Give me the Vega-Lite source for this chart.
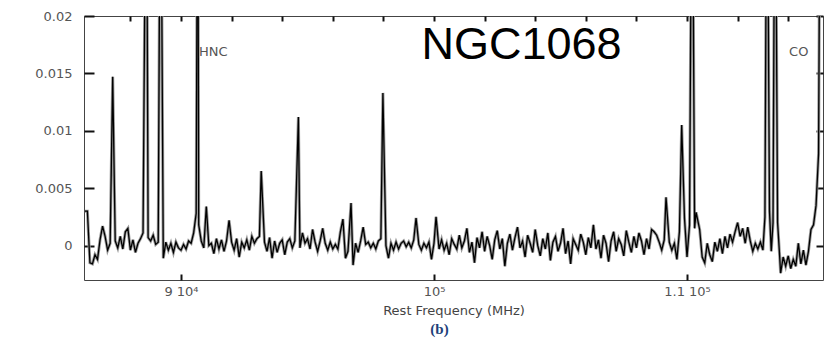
{
  "$schema": "https://vega.github.io/schema/vega-lite/v6.json",
  "autosize": "none",
  "width": 739,
  "height": 264,
  "padding": {"left": 84, "top": 16, "right": 1, "bottom": 58},
  "background": "white",
  "config": {
    "view": {"stroke": "#444", "strokeWidth": 1},
    "axis": {"domain": false, "grid": false, "labelFont": "DejaVu Sans", "labelFontSize": 13, "labelColor": "#555", "titleFont": "DejaVu Sans", "titleFontSize": 13, "titleFontWeight": "normal", "titleColor": "#444"}
  },
  "title": {"text": "(b)", "orient": "bottom", "font": "Liberation Serif", "fontSize": 15, "fontWeight": "bold", "color": "#1f3f7a", "dx": -14, "offset": 5},
  "layer": [
    {
      "data": {"name": "spectrum", "values": [
        {"f":86200,"v":0.003},{"f":86300,"v":0.003},{"f":86400,"v":-0.0015},{"f":86500,"v":-0.0016},{"f":86600,"v":-0.0008},
        {"f":86700,"v":-0.0012},{"f":86800,"v":0.0005},{"f":86900,"v":0.0017},{"f":87000,"v":0.0008},{"f":87100,"v":-0.0004},
        {"f":87200,"v":0.0002},{"f":87300,"v":0.0147},{"f":87400,"v":0.0004},{"f":87500,"v":-0.0002},{"f":87600,"v":0.0008},
        {"f":87700,"v":-0.0003},{"f":87800,"v":0.0012},{"f":87900,"v":0.0015},{"f":88000,"v":-0.0004},{"f":88100,"v":0.0005},
        {"f":88200,"v":-0.0006},{"f":88300,"v":0.0002},{"f":88400,"v":0.0006},{"f":88500,"v":0.0011},{"f":88630,"v":0.04},
        {"f":88700,"v":0.0007},{"f":88800,"v":0.0004},{"f":88900,"v":0.0009},{"f":89000,"v":0.0001},{"f":89100,"v":0.0003},
        {"f":89190,"v":0.04},{"f":89300,"v":-0.0011},{"f":89400,"v":0.0003},{"f":89500,"v":-0.0004},{"f":89600,"v":0.0002},
        {"f":89700,"v":-0.0006},{"f":89800,"v":0.0003},{"f":89900,"v":-0.0002},{"f":90000,"v":-0.0004},{"f":90100,"v":0.0001},
        {"f":90200,"v":-0.0003},{"f":90300,"v":0.0004},{"f":90400,"v":0.0002},{"f":90500,"v":0.0011},{"f":90600,"v":0.0028},
        {"f":90660,"v":0.04},{"f":90700,"v":0.0018},{"f":90800,"v":0.0004},{"f":90900,"v":-0.0002},{"f":91000,"v":0.0034},
        {"f":91100,"v":0.0},{"f":91200,"v":0.0002},{"f":91300,"v":-0.0007},{"f":91400,"v":0.0006},{"f":91500,"v":-0.0003},
        {"f":91600,"v":0.0005},{"f":91700,"v":-0.0005},{"f":91800,"v":0.0004},{"f":91900,"v":0.0022},{"f":92000,"v":0.0003},
        {"f":92100,"v":-0.0004},{"f":92200,"v":0.0006},{"f":92300,"v":-0.001},{"f":92400,"v":0.0003},{"f":92500,"v":-0.0002},
        {"f":92600,"v":0.0005},{"f":92700,"v":-0.0004},{"f":92800,"v":0.0008},{"f":92900,"v":0.0002},{"f":93000,"v":0.0006},
        {"f":93100,"v":0.0008},{"f":93170,"v":0.0065},{"f":93300,"v":0.0003},{"f":93400,"v":-0.0005},{"f":93500,"v":0.0007},
        {"f":93600,"v":-0.0011},{"f":93700,"v":0.0004},{"f":93800,"v":-0.0006},{"f":93900,"v":0.0002},{"f":94000,"v":0.0005},
        {"f":94100,"v":-0.0008},{"f":94200,"v":0.0003},{"f":94300,"v":0.0006},{"f":94400,"v":-0.0002},{"f":94500,"v":0.0004},
        {"f":94640,"v":0.0112},{"f":94700,"v":-0.0002},{"f":94800,"v":0.0011},{"f":94900,"v":0.0002},{"f":95000,"v":0.0006},
        {"f":95100,"v":-0.0003},{"f":95200,"v":0.0014},{"f":95300,"v":0.0003},{"f":95400,"v":-0.0005},{"f":95500,"v":0.0004},
        {"f":95600,"v":0.0015},{"f":95700,"v":0.0002},{"f":95800,"v":-0.0004},{"f":95900,"v":0.0003},{"f":96000,"v":-0.0003},
        {"f":96100,"v":0.0001},{"f":96200,"v":-0.0003},{"f":96300,"v":0.0012},{"f":96400,"v":0.0023},{"f":96500,"v":-0.0011},
        {"f":96600,"v":-0.0005},{"f":96720,"v":0.0037},{"f":96800,"v":-0.0017},{"f":96900,"v":0.0002},{"f":97000,"v":-0.0006},
        {"f":97100,"v":0.0004},{"f":97200,"v":0.0016},{"f":97300,"v":0.0001},{"f":97400,"v":0.0003},{"f":97500,"v":-0.0002},
        {"f":97600,"v":0.0002},{"f":97700,"v":-0.0003},{"f":97800,"v":0.0004},{"f":97900,"v":0.0006},{"f":97980,"v":0.0133},
        {"f":98100,"v":0.0},{"f":98200,"v":-0.0011},{"f":98300,"v":0.0002},{"f":98400,"v":-0.0004},{"f":98500,"v":0.0003},
        {"f":98600,"v":-0.0003},{"f":98700,"v":0.0002},{"f":98800,"v":0.0004},{"f":98900,"v":-0.0001},{"f":99000,"v":0.0003},
        {"f":99100,"v":-0.0002},{"f":99200,"v":0.0005},{"f":99290,"v":0.0024},{"f":99400,"v":0.0001},{"f":99500,"v":-0.0004},
        {"f":99600,"v":0.0002},{"f":99700,"v":-0.0002},{"f":99800,"v":0.0003},{"f":99900,"v":-0.0012},{"f":100000,"v":0.0002},
        {"f":100080,"v":0.0025},{"f":100200,"v":-0.0003},{"f":100300,"v":0.0005},{"f":100400,"v":-0.0004},{"f":100500,"v":0.0002},
        {"f":100600,"v":-0.0008},{"f":100700,"v":0.0006},{"f":100800,"v":0.0001},{"f":100900,"v":-0.0003},{"f":101000,"v":0.0009},
        {"f":101100,"v":-0.0002},{"f":101200,"v":0.0004},{"f":101300,"v":0.0015},{"f":101400,"v":-0.0006},{"f":101500,"v":0.0003},
        {"f":101600,"v":-0.0015},{"f":101700,"v":0.0007},{"f":101800,"v":-0.0002},{"f":101900,"v":0.0012},{"f":102000,"v":-0.0005},
        {"f":102100,"v":0.0008},{"f":102200,"v":0.0},{"f":102300,"v":-0.0012},{"f":102400,"v":0.0005},{"f":102500,"v":0.0013},
        {"f":102600,"v":-0.0003},{"f":102700,"v":0.0006},{"f":102800,"v":-0.0018},{"f":102900,"v":0.0002},{"f":103000,"v":0.001},
        {"f":103100,"v":-0.0004},{"f":103200,"v":0.0007},{"f":103300,"v":0.0016},{"f":103400,"v":-0.0002},{"f":103500,"v":0.0004},
        {"f":103600,"v":-0.001},{"f":103700,"v":0.0009},{"f":103800,"v":0.0002},{"f":103900,"v":-0.0006},{"f":104000,"v":0.0014},
        {"f":104100,"v":0.0},{"f":104200,"v":-0.0009},{"f":104300,"v":0.0006},{"f":104400,"v":-0.0003},{"f":104500,"v":0.0011},
        {"f":104600,"v":-0.0013},{"f":104700,"v":0.0003},{"f":104800,"v":0.0008},{"f":104900,"v":-0.0005},{"f":105000,"v":0.0002},
        {"f":105100,"v":0.0015},{"f":105200,"v":-0.0007},{"f":105300,"v":0.0004},{"f":105400,"v":-0.0016},{"f":105500,"v":0.0006},
        {"f":105600,"v":0.0001},{"f":105700,"v":-0.0004},{"f":105800,"v":0.001},{"f":105900,"v":0.0003},{"f":106000,"v":-0.0008},
        {"f":106100,"v":0.0007},{"f":106200,"v":-0.0002},{"f":106300,"v":0.0018},{"f":106400,"v":-0.0003},{"f":106500,"v":0.0005},
        {"f":106600,"v":-0.0011},{"f":106700,"v":0.0009},{"f":106800,"v":0.0002},{"f":106900,"v":-0.0014},{"f":107000,"v":0.0004},
        {"f":107100,"v":0.0012},{"f":107200,"v":-0.0005},{"f":107300,"v":0.0006},{"f":107400,"v":0.0001},{"f":107500,"v":-0.0009},
        {"f":107600,"v":0.0013},{"f":107700,"v":0.0003},{"f":107800,"v":-0.0006},{"f":107900,"v":0.0008},{"f":108000,"v":-0.0002},
        {"f":108100,"v":0.0011},{"f":108200,"v":0.0004},{"f":108300,"v":-0.0008},{"f":108400,"v":0.0006},{"f":108500,"v":-0.0003},
        {"f":108600,"v":0.0014},{"f":108700,"v":0.0012},{"f":108800,"v":0.0009},{"f":108900,"v":0.0003},{"f":109000,"v":-0.0004},
        {"f":109100,"v":0.0005},{"f":109170,"v":0.0042},{"f":109300,"v":0.0003},{"f":109400,"v":-0.0004},{"f":109500,"v":0.0002},
        {"f":109600,"v":-0.0012},{"f":109700,"v":0.0012},{"f":109790,"v":0.0105},{"f":109900,"v":0.0024},{"f":110000,"v":-0.001},
        {"f":110100,"v":0.0018},{"f":110200,"v":0.04},{"f":110300,"v":0.0015},{"f":110360,"v":0.0029},{"f":110500,"v":0.0014},
        {"f":110600,"v":-0.001},{"f":110700,"v":-0.0015},{"f":110800,"v":0.0002},{"f":110900,"v":-0.0008},{"f":111000,"v":-0.0014},
        {"f":111100,"v":0.0003},{"f":111200,"v":-0.0005},{"f":111300,"v":0.0006},{"f":111400,"v":-0.0007},{"f":111500,"v":0.0008},
        {"f":111600,"v":-0.0002},{"f":111700,"v":0.001},{"f":111800,"v":0.0003},{"f":111900,"v":0.0012},{"f":112000,"v":0.002},
        {"f":112100,"v":0.0008},{"f":112200,"v":0.0015},{"f":112300,"v":0.0002},{"f":112400,"v":0.0016},{"f":112500,"v":0.0004},
        {"f":112600,"v":-0.0005},{"f":112700,"v":0.0002},{"f":112800,"v":-0.0003},{"f":112900,"v":0.0003},{"f":113000,"v":-0.0004},
        {"f":113080,"v":0.0025},{"f":113160,"v":0.04},{"f":113260,"v":0.003},{"f":113330,"v":-0.0005},{"f":113400,"v":0.002},
        {"f":113480,"v":0.04},{"f":113580,"v":0.002},{"f":113650,"v":-0.0005},{"f":113700,"v":-0.0024},{"f":113800,"v":-0.001},
        {"f":113900,"v":-0.0018},{"f":114000,"v":-0.0009},{"f":114100,"v":-0.002},{"f":114200,"v":-0.0012},{"f":114300,"v":-0.0018},
        {"f":114400,"v":0.0002},{"f":114500,"v":-0.0016},{"f":114600,"v":-0.0004},{"f":114700,"v":-0.0017},{"f":114800,"v":-0.0005},
        {"f":114900,"v":0.0014},{"f":115000,"v":0.0018},{"f":115100,"v":0.0035},{"f":115200,"v":0.008},{"f":115271,"v":0.04},
        {"f":115360,"v":0.03}
      ]},
      "mark": {"type": "line", "color": "#9c9c9c", "strokeWidth": 3, "clip": true, "interpolate": "linear"},
      "encoding": {
        "x": {"field": "f", "type": "quantitative", "scale": {"domain": [86166, 115375], "nice": false, "zero": false},
          "axis": {"orient": "bottom", "values": [90000, 100000, 110000], "tickColor": "#111", "tickWidth": 2, "tickSize": 6, "offset": -6, "labelPadding": 5,
            "labelExpr": "datum.value == 90000 ? '9 10⁴' : datum.value == 100000 ? '10⁵' : '1.1 10⁵'",
            "title": "Rest Frequency (MHz)", "titlePadding": 6}},
        "y": {"field": "v", "type": "quantitative", "scale": {"domain": [-0.003, 0.02], "nice": false, "zero": false},
          "axis": {"orient": "left", "values": [0, 0.005, 0.01, 0.015, 0.02], "format": "~g", "tickColor": "#111", "tickWidth": 2, "tickSize": 10, "offset": -10, "labelPadding": 12, "title": null}}
      }
    },
    {
      "data": {"name": "spectrum"},
      "mark": {"type": "line", "color": "#000000", "strokeWidth": 1.3, "clip": true},
      "encoding": {
        "x": {"field": "f", "type": "quantitative",
          "axis": {"orient": "top", "values": [88000, 90000, 92000, 94000, 96000, 98000, 100000, 102000, 104000, 106000, 108000, 110000, 112000, 114000], "tickColor": "#111", "tickWidth": 2, "tickSize": 5, "offset": -5, "labels": false, "title": null}},
        "y": {"field": "v", "type": "quantitative",
          "axis": {"orient": "right", "values": [0, 0.005, 0.01, 0.015, 0.02], "tickColor": "#111", "tickWidth": 2, "tickSize": 7, "offset": -7, "labels": false, "title": null}}
      }
    },
    {
      "data": {"values": [{"label": "NGC1068"}]},
      "mark": {"type": "text", "font": "Liberation Sans", "fontSize": 45, "color": "#000000", "align": "center", "baseline": "middle"},
      "encoding": {
        "text": {"field": "label"},
        "x": {"datum": 103460, "type": "quantitative", "axis": null},
        "y": {"datum": 0.0175, "type": "quantitative", "axis": null}
      }
    },
    {
      "data": {"values": [{"label": "HNC"}]},
      "mark": {"type": "text", "font": "DejaVu Sans", "fontSize": 13, "color": "#555", "align": "left", "baseline": "middle"},
      "encoding": {
        "text": {"field": "label"},
        "x": {"datum": 90712, "type": "quantitative", "axis": null},
        "y": {"datum": 0.0169, "type": "quantitative", "axis": null}
      }
    },
    {
      "data": {"values": [{"label": "CO"}]},
      "mark": {"type": "text", "font": "DejaVu Sans", "fontSize": 13, "color": "#555", "align": "left", "baseline": "middle"},
      "encoding": {
        "text": {"field": "label"},
        "x": {"datum": 114035, "type": "quantitative", "axis": null},
        "y": {"datum": 0.0169, "type": "quantitative", "axis": null}
      }
    }
  ],
  "resolve": {"axis": {"x": "independent", "y": "independent"}}
}
